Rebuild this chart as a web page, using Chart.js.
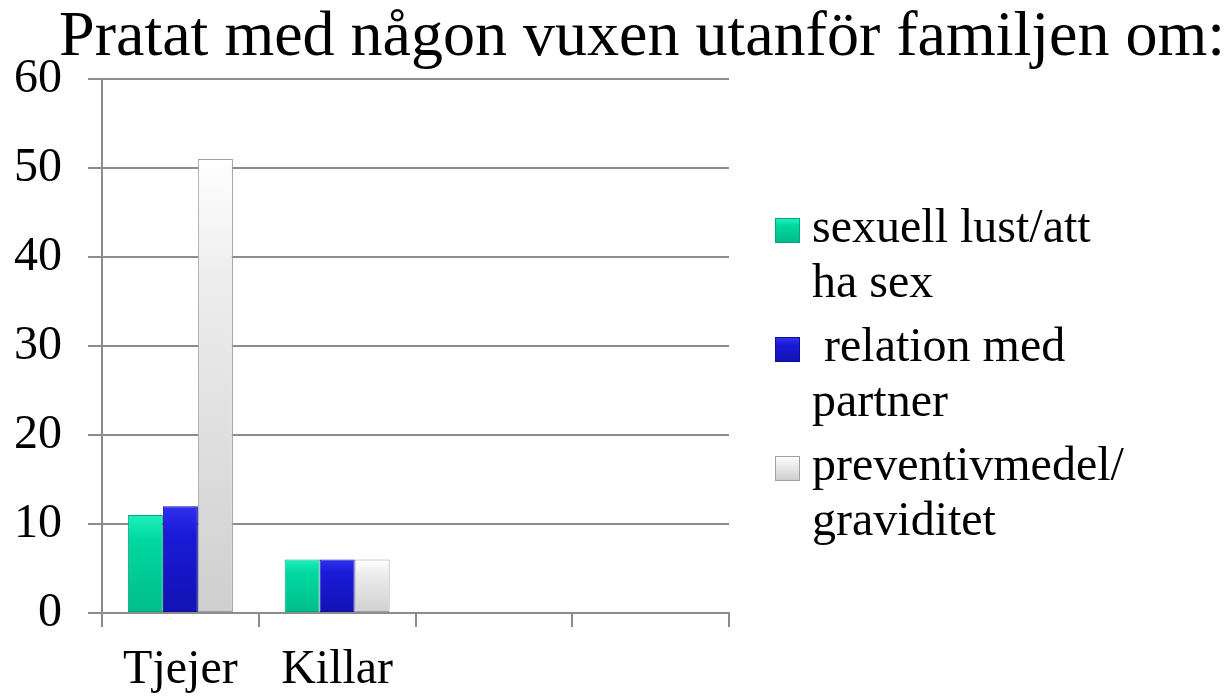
<!DOCTYPE html>
<html>
<head>
<meta charset="utf-8">
<script src="https://cdn.jsdelivr.net/npm/chart.js@4.4.1/dist/chart.umd.min.js"></script>
<style>
  html, body { margin: 0; padding: 0; background: #fff; }
  #wrap { position: relative; width: 1231px; height: 696px; }
  #c { position: absolute; left: 0; top: 0; }
  #legend { position: absolute; left: 775px; top: 198px; font-family: 'Liberation Serif', 'Times New Roman', serif; font-size: 48px; line-height: 55px; color: #000; }
  .item { position: relative; padding-left: 37px; margin-bottom: 9px; }
  .item span.sw { position: absolute; left: 0; top: 20px; width: 25px; height: 25px; box-sizing: border-box; }
  .item div { white-space: pre; }
</style>
</head>
<body>
<div id="wrap">
  <canvas id="c" width="1231" height="696"></canvas>
  <div id="legend"></div>
</div>
<script>
const titleText = 'Pratat med någon vuxen utanför familjen om:';
const categories = ['Tjejer', 'Killar', '', ''];
const seriesLines = [
  ['sexuell lust/att', 'ha sex'],
  [' relation med', 'partner'],
  ['preventivmedel/', 'graviditet']
];
const sexuellLust = [11, 6, null, null];
const relationPartner = [12, 6, null, null];
const preventivmedel = [51, 6, null, null];
const yTicks = [0, 10, 20, 30, 40, 50, 60];

const palettes = [
  { top: '#1ef0bc', mid: '#00d8a0', bottom: '#00bd8a', border: '#0aa47c' },
  { top: '#3030f0', mid: '#1a1ad8', bottom: '#1212b4', border: '#0e0e98' },
  { top: '#ffffff', mid: '#eeeeee', bottom: '#cfcfcf', border: '#a0a0a0' }
];

function gradFor(idx) {
  return function(ctx) {
    const chart = ctx.chart;
    const p = palettes[idx];
    const ys = chart.scales && chart.scales.y;
    if (!chart.chartArea || !ys || ctx.raw == null) return p.mid;
    const top = ys.getPixelForValue(ctx.raw);
    const base = ys.getPixelForValue(0);
    if (!isFinite(top) || !isFinite(base) || base - top < 1) return p.mid;
    const g = chart.ctx.createLinearGradient(0, top, 0, base);
    g.addColorStop(0, p.top);
    g.addColorStop(0.25, p.mid);
    g.addColorStop(1, p.bottom);
    return g;
  };
}

const seriesValues = [sexuellLust, relationPartner, preventivmedel];
const datasets = seriesValues.map((vals, i) => ({
  label: seriesLines[i].join(' ').trim(),
  data: vals,
  backgroundColor: gradFor(i),
  borderColor: palettes[i].border,
  borderWidth: 1,
  borderSkipped: false,
  categoryPercentage: 0.67,
  barPercentage: 1.0
}));

const gridColor = '#8c8c8c';
const serif = "'Liberation Serif', 'Times New Roman', serif";

new Chart(document.getElementById('c'), {
  type: 'bar',
  data: { labels: categories, datasets: datasets },
  options: {
    responsive: false,
    animation: false,
    layout: { padding: { left: 0, right: 6, top: 0, bottom: 0 } },
    plugins: {
      legend: { display: false },
      tooltip: { enabled: false },
      title: {
        display: true,
        text: titleText,
        align: 'end',
        color: '#000',
        font: { family: serif, size: 64, lineHeight: 1.0, weight: 'normal' },
        padding: { top: 6, bottom: 9 }
      }
    },
    scales: {
      x: {
        grid: { display: true, drawOnChartArea: false, drawTicks: true, tickLength: 14, color: gridColor, lineWidth: 2, offset: true },
        border: { display: true, color: gridColor, width: 2 },
        ticks: { color: '#000', font: { family: serif, size: 48 }, padding: 15, maxRotation: 0, autoSkip: false },
        afterFit: s => { s.height = 83; }
      },
      y: {
        min: 0, max: 60,
        afterBuildTicks: s => { s.ticks = yTicks.map(v => ({ value: v })); },
        grid: { display: true, drawOnChartArea: true, drawTicks: true, tickLength: 14, color: gridColor, lineWidth: 2 },
        border: { display: true, color: gridColor, width: 2 },
        ticks: { color: '#000', font: { family: serif, size: 48 }, padding: 26 },
        afterFit: s => { s.width = 102; }
      },
      yPad: {
        type: 'linear',
        position: 'right',
        min: 0, max: 1,
        display: true,
        grid: { display: false },
        border: { display: false },
        ticks: { display: false },
        afterFit: s => { s.width = 496; }
      }
    }
  }
});

// HTML legend built from the series names and palettes
const legendEl = document.getElementById('legend');
seriesLines.forEach((lines, i) => {
  const item = document.createElement('div');
  item.className = 'item';
  const sw = document.createElement('span');
  sw.className = 'sw';
  const p = palettes[i];
  sw.style.background = 'linear-gradient(' + p.top + ',' + p.mid + ' 30%,' + p.bottom + ')';
  sw.style.border = '1px solid ' + p.border;
  item.appendChild(sw);
  lines.forEach(t => {
    const d = document.createElement('div');
    d.textContent = t;
    item.appendChild(d);
  });
  legendEl.appendChild(item);
});
</script>
</body>
</html>
